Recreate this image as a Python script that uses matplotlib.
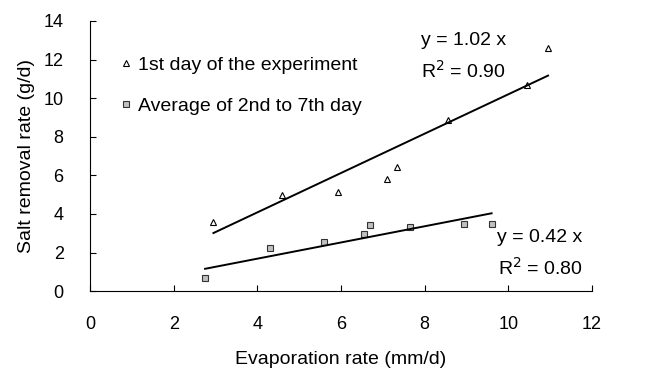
import matplotlib
matplotlib.use('Agg')
import matplotlib.pyplot as plt
import numpy as np

plt.rcParams['font.family'] = ['Liberation Sans', 'DejaVu Sans']

# first day of the experiment
evap_day1 = [2.95, 4.6, 5.92, 7.1, 7.35, 8.55, 10.45, 10.95]
salt_day1 = [3.6, 5.0, 5.15, 5.8, 6.45, 8.85, 10.7, 12.6]
slope_day1 = 1.02
r2_day1 = 0.90

# average of days 2-7
evap_avg = [2.75, 4.3, 5.6, 6.55, 6.7, 7.65, 8.95, 9.6]
salt_avg = [0.7, 2.25, 2.57, 2.95, 3.4, 3.33, 3.48, 3.48]
slope_avg = 0.42
r2_avg = 0.80

x_ticks = np.arange(0, 13, 2)
y_ticks = np.arange(0, 15, 2)

fig = plt.figure(figsize=(6.67, 3.68), dpi=100)
ax = fig.add_axes([0.135, 0.209, 0.7525, 0.734])

ax.plot(evap_day1, salt_day1, linestyle='none', marker='^', markersize=4,
        markerfacecolor='white', markeredgecolor='black', markeredgewidth=0.8,
        label='1st day of the experiment')
ax.plot(evap_avg, salt_avg, linestyle='none', marker='s', markersize=4.5,
        markerfacecolor='#c0c0c0', markeredgecolor='#333333', markeredgewidth=0.8,
        label='Average of 2nd to 7th day')

# trend lines through the origin, spanning the data range
xs = np.array([min(evap_day1), max(evap_day1)])
ax.plot(xs, slope_day1 * xs, color='black', lw=1.4)
xs = np.array([min(evap_avg), max(evap_avg)])
ax.plot(xs, slope_avg * xs, color='black', lw=1.4)

ax.text(8.94, 13.0, 'y = %.2f x' % slope_day1, fontsize=14, ha='center', va='center')
ax.text(8.94, 11.4, 'R$^2$ = %.2f' % r2_day1, fontsize=14, ha='center', va='center')
ax.text(10.76, 2.8, 'y = %.2f x' % slope_avg, fontsize=14, ha='center', va='center')
ax.text(10.76, 1.2, 'R$^2$ = %.2f' % r2_avg, fontsize=14, ha='center', va='center')

ax.legend(loc='upper left', bbox_to_anchor=(0.054, 0.87), frameon=False, fontsize=14,
          handletextpad=0.15, handlelength=0.9, labelspacing=1.2, borderaxespad=0,
          borderpad=0)

ax.set_xlim(0, 12)
ax.set_ylim(0, 14)
ax.set_xticks(x_ticks)
ax.set_yticks(y_ticks)
ax.tick_params(direction='in', length=4, width=0.8, labelsize=13, colors='black')
ax.tick_params(axis='x', pad=18)
ax.tick_params(axis='y', pad=19)
ax.spines['top'].set_visible(False)
ax.spines['right'].set_visible(False)
ax.set_xlabel('Evaporation rate (mm/d)', fontsize=14, labelpad=13)
ax.set_ylabel('Salt removal rate (g/d)', fontsize=14, labelpad=6)

fig.savefig('out.png', dpi=100)
